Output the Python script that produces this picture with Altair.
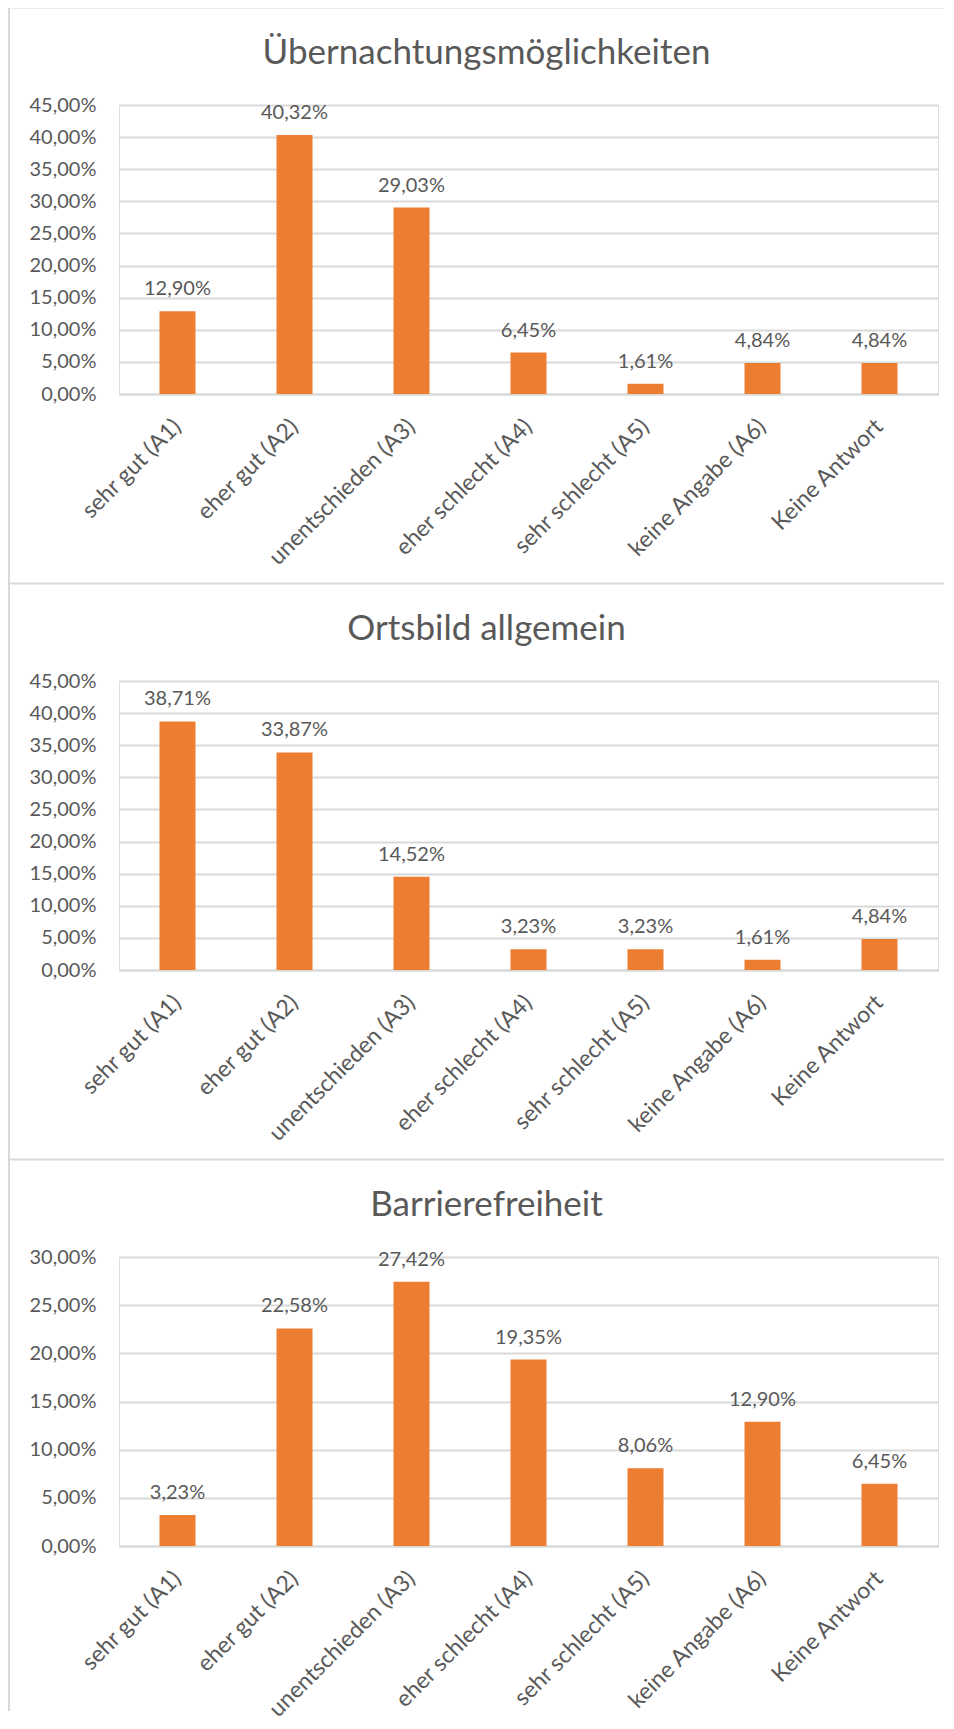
import altair as alt
import pandas as pd

categories = ["sehr gut (A1)", "eher gut (A2)", "unentschieden (A3)", "eher schlecht (A4)",
              "sehr schlecht (A5)", "keine Angabe (A6)", "Keine Antwort"]
titles = ["Übernachtungsmöglichkeiten", "Ortsbild allgemein", "Barrierefreiheit"]
values_1 = [12.90, 40.32, 29.03, 6.45, 1.61, 4.84, 4.84]
values_2 = [38.71, 33.87, 14.52, 3.23, 3.23, 1.61, 4.84]
values_3 = [3.23, 22.58, 27.42, 19.35, 8.06, 12.90, 6.45]
y_max = [45, 45, 30]

FONT = "Lato"
TEXT = "#595959"
GRID = "#D9D9D9"
BAR = "#ED7D31"
W, H = 819, 289
PCT = "replace(format(datum.value, '.2f'), '.', ',') + '%'"


def panel(title, vals, ymax, bottom_extent):
    df = pd.DataFrame({"cat": categories, "val": vals})
    base = alt.Chart(df)
    x = alt.X("cat:N", sort=categories, title=None,
              scale=alt.Scale(paddingInner=0, paddingOuter=0),
              axis=alt.Axis(labelAngle=-45, labelFontSize=23, labelFont=FONT, labelColor=TEXT,
                            ticks=False, domainColor=GRID, domainWidth=2, labelPadding=21,
                            labelOffset=-8, labelOverlap=False, labelLimit=400, grid=False))
    y = alt.Y("val:Q", scale=alt.Scale(domain=[0, ymax], nice=False), title=None,
              axis=alt.Axis(values=list(range(0, ymax + 1, 5)), labelExpr=PCT,
                            grid=True, gridColor=GRID, gridWidth=2, domain=False, ticks=False,
                            labelOverlap=False, labelPadding=23, labelFontSize=20,
                            labelFont=FONT, labelColor=TEXT))
    bars = base.mark_bar(color=BAR, size=36).encode(x=x, y=y)
    labels = base.transform_calculate(
        lab="replace(format(datum.val, '.2f'), '.', ',') + '%'"
    ).mark_text(font=FONT, fontSize=20, color=TEXT, baseline="alphabetic", dy=-16).encode(
        x=x, y=y, text="lab:N")
    dummy = alt.Chart(alt.Data(values=[{"a": 1}]))
    left_border = dummy.mark_rule(color=GRID, strokeWidth=2).encode(
        x=alt.value(-110), y=alt.value(-97.5), y2=alt.value(H + bottom_extent))
    top_border = dummy.mark_rule(color=GRID, strokeWidth=2).encode(
        x=alt.value(-111), x2=alt.value(835), y=alt.value(-97.5))
    head = dummy.mark_text(text=title, font=FONT, fontSize=35, color=TEXT,
                           align="center", baseline="alphabetic").encode(
        x=alt.value(W / 2 - 42), y=alt.value(-41))
    return alt.layer(left_border, top_border, head, bars, labels).properties(width=W, height=H)


p1 = panel(titles[0], values_1, y_max[0], 190)
p2 = panel(titles[1], values_2, y_max[1], 190)
p3 = panel(titles[2], values_3, y_max[2], 165)

chart = alt.vconcat(p1, p2, p3, spacing=287, bounds="flush").properties(
    padding={"left": -2, "top": -2, "right": -12, "bottom": 0}
).configure_view(stroke=None).configure(font=FONT)

chart.save("out.html", embed_options={"renderer": "svg", "actions": False})
